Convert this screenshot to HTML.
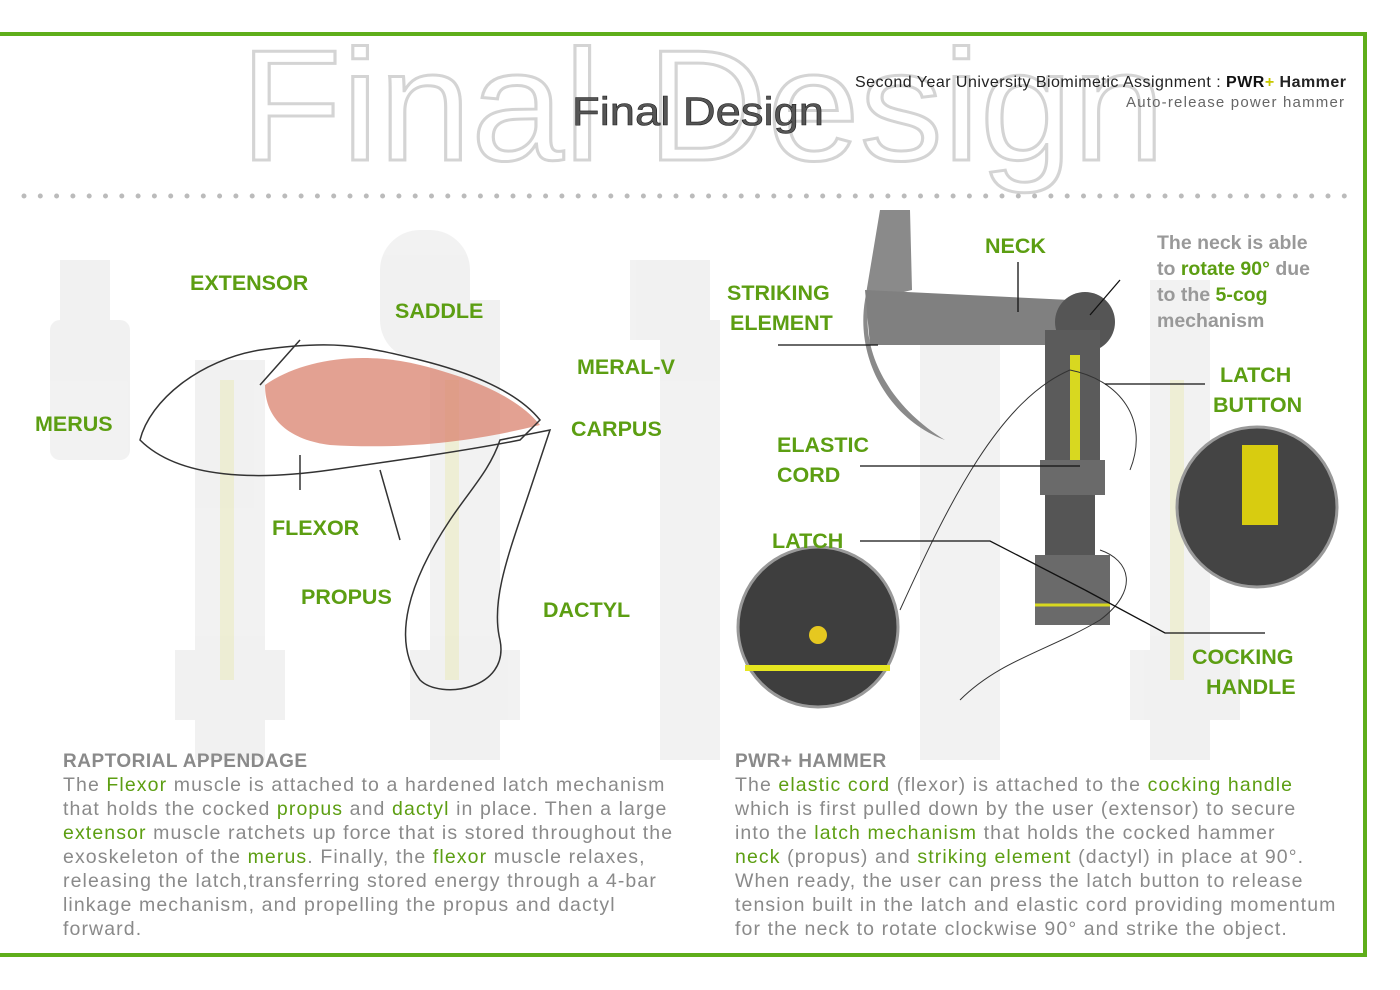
<!DOCTYPE html>
<html><head><meta charset="utf-8">
<style>
body{margin:0;background:#fff;}
svg{display:block}
.g{fill:#5c9e12;font-family:"Liberation Sans",sans-serif;font-weight:bold;font-size:21.5px}
.t{font-family:"Liberation Sans",sans-serif;font-size:19.5px;fill:#8a8a8a;letter-spacing:1.1px}
.t tspan.k{fill:#5c9e12}
</style></head><body>
<svg width="1400" height="990" viewBox="0 0 1400 990">
<rect width="1400" height="990" fill="#fff"/>
<g opacity="0.08" fill="#555">
<rect x="60" y="260" width="50" height="70"/><rect x="50" y="320" width="80" height="140" rx="10"/>
<rect x="195" y="360" width="70" height="400"/><rect x="175" y="650" width="110" height="70"/>
<rect x="380" y="230" width="90" height="130" rx="40"/><rect x="430" y="300" width="70" height="460"/><rect x="410" y="650" width="110" height="70"/>
<rect x="630" y="260" width="80" height="80"/><rect x="660" y="320" width="60" height="440"/>
<rect x="920" y="330" width="80" height="430"/><rect x="1150" y="280" width="60" height="480"/><rect x="1130" y="650" width="110" height="70"/>
</g>
<g opacity="0.15" fill="#d8d830"><rect x="220" y="380" width="14" height="300"/><rect x="445" y="380" width="14" height="300"/><rect x="1170" y="380" width="14" height="300"/></g>
<rect x="-2" y="34" width="1367" height="921" fill="none" stroke="#5fae1a" stroke-width="4"/>
<text x="240" y="160" font-family="Liberation Sans,sans-serif" font-size="158" fill="none" stroke="#d4d4d4" stroke-width="3" textLength="925" lengthAdjust="spacingAndGlyphs">Final Design</text>
<text x="572" y="125" font-family="Liberation Sans,sans-serif" font-size="40" fill="#555" stroke="#222" stroke-width="0.6" textLength="252" lengthAdjust="spacingAndGlyphs">Final Design</text>
<text x="855" y="87" font-family="Liberation Sans,sans-serif" font-size="16" fill="#222" textLength="491">Second Year University Biomimetic Assignment : <tspan font-weight="bold" fill="#111">PWR</tspan><tspan fill="#c8c800" font-weight="bold">+</tspan><tspan font-weight="bold"> Hammer</tspan></text>
<text x="1126" y="107" font-family="Liberation Sans,sans-serif" font-size="15" fill="#666" textLength="218">Auto-release power hammer</text>
<line x1="24" y1="196" x2="1350" y2="196" stroke="#bbb" stroke-width="5" stroke-linecap="round" stroke-dasharray="0 16.3"/>
<path d="M265 385 C300 360 360 350 420 365 C480 380 520 400 540 425 C480 440 410 450 330 445 C290 440 265 420 265 385Z" fill="#d9826e" opacity="0.75"/>
<g fill="none" stroke="#333" stroke-width="1.5">
<path d="M140 440 C150 400 200 360 260 350 C330 340 360 345 420 360 C480 375 520 395 540 420 L520 440 C470 450 400 460 330 470 C260 480 180 480 140 440Z"/>
<path d="M500 440 L550 430 L530 490 C510 550 490 600 500 640 C510 690 440 700 420 680 C390 640 410 580 450 520 C470 490 490 470 500 440Z"/>
<path d="M260 385 L300 340 M300 455 L300 490 M380 470 L400 540"/>
</g>
<g>
<path d="M880 210 L910 210 L912 290 L870 300 C860 340 880 400 945 440 C890 420 855 360 865 300 Z" fill="#8a8a8a"/>
<path d="M865 290 L1070 300 L1070 345 L870 345Z" fill="#808080"/>
<circle cx="1085" cy="322" r="30" fill="#555"/>
<rect x="1045" y="330" width="55" height="150" fill="#5b5b5b"/>
<rect x="1070" y="355" width="10" height="110" fill="#d8d820"/>
<rect x="1040" y="460" width="65" height="35" fill="#6a6a6a"/>
<rect x="1045" y="495" width="50" height="60" fill="#555"/>
<rect x="1035" y="555" width="75" height="70" fill="#6a6a6a"/>
<line x1="1035" y1="605" x2="1110" y2="605" stroke="#d8d820" stroke-width="3"/>
</g>
<g fill="none" stroke="#333" stroke-width="1">
<path d="M900 610 C950 500 1000 400 1070 370 C1120 380 1150 420 1130 470"/>
<path d="M960 700 C1000 660 1050 650 1100 620 C1140 590 1130 560 1100 550"/>
</g>
<circle cx="1257" cy="507" r="80" fill="#444" stroke="#999" stroke-width="3"/>
<rect x="1242" y="445" width="36" height="80" fill="#d8cc10"/>
<circle cx="818" cy="627" r="80" fill="#3e3e3e" stroke="#999" stroke-width="3"/>
<rect x="745" y="665" width="145" height="6" fill="#e6e620"/>
<circle cx="818" cy="635" r="9" fill="#e6c820"/>
<g stroke="#111" stroke-width="1.3" fill="none">
<path d="M1018 262 L1018 312"/><path d="M778 345 L878 345"/><path d="M1120 280 L1090 315"/>
<path d="M1205 384 L1105 384"/><path d="M860 466 L1080 466"/><path d="M860 541 L990 541 L1085 590"/><path d="M1085 590 L1165 633 L1265 633"/>
</g>
<text class="g" x="190" y="290">EXTENSOR</text>
<text class="g" x="395" y="318">SADDLE</text>
<text class="g" x="577" y="374">MERAL-V</text>
<text class="g" x="35" y="431">MERUS</text>
<text class="g" x="571" y="436">CARPUS</text>
<text class="g" x="272" y="535">FLEXOR</text>
<text class="g" x="301" y="604">PROPUS</text>
<text class="g" x="543" y="617">DACTYL</text>
<text class="g" x="985" y="253">NECK</text>
<text class="g" x="727" y="300">STRIKING</text>
<text class="g" x="730" y="330">ELEMENT</text>
<text class="g" x="777" y="452">ELASTIC</text>
<text class="g" x="777" y="482">CORD</text>
<text class="g" x="772" y="548">LATCH</text>
<text class="g" x="1220" y="382">LATCH</text>
<text class="g" x="1213" y="412">BUTTON</text>
<text class="g" x="1192" y="664">COCKING</text>
<text class="g" x="1206" y="694">HANDLE</text>
<g font-family="Liberation Sans,sans-serif" font-weight="bold" font-size="19.5" fill="#999">
<text x="1157" y="249">The neck is able</text>
<text x="1157" y="275">to <tspan fill="#5c9e12">rotate 90°</tspan> due</text>
<text x="1157" y="301">to the <tspan fill="#5c9e12">5-cog</tspan></text>
<text x="1157" y="327">mechanism</text>
</g>
<text x="63" y="767" font-family="Liberation Sans,sans-serif" font-weight="bold" font-size="19" fill="#8a8a8a" letter-spacing="0.5">RAPTORIAL APPENDAGE</text>
<text class="t" x="63" y="791">The <tspan class="k">Flexor</tspan> muscle is attached to a hardened latch mechanism</text>
<text class="t" x="63" y="815">that holds the cocked <tspan class="k">propus</tspan> and <tspan class="k">dactyl</tspan> in place. Then a large</text>
<text class="t" x="63" y="839"><tspan class="k">extensor</tspan> muscle ratchets up force that is stored throughout the</text>
<text class="t" x="63" y="863">exoskeleton of the <tspan class="k">merus</tspan>. Finally, the <tspan class="k">flexor</tspan> muscle relaxes,</text>
<text class="t" x="63" y="887">releasing the latch,transferring stored energy through a 4-bar</text>
<text class="t" x="63" y="911">linkage mechanism, and propelling the propus and dactyl</text>
<text class="t" x="63" y="935">forward.</text>
<text x="735" y="767" font-family="Liberation Sans,sans-serif" font-weight="bold" font-size="19" fill="#8a8a8a" letter-spacing="0.5">PWR+ HAMMER</text>
<text class="t" x="735" y="791">The <tspan class="k">elastic cord</tspan> (flexor) is attached to the <tspan class="k">cocking handle</tspan></text>
<text class="t" x="735" y="815">which is first pulled down by the user (extensor) to secure</text>
<text class="t" x="735" y="839">into the <tspan class="k">latch mechanism</tspan> that holds the cocked hammer</text>
<text class="t" x="735" y="863"><tspan class="k">neck</tspan> (propus) and <tspan class="k">striking element</tspan> (dactyl) in place at 90°.</text>
<text class="t" x="735" y="887">When ready, the user can press the latch button to release</text>
<text class="t" x="735" y="911">tension built in the latch and elastic cord providing momentum</text>
<text class="t" x="735" y="935">for the neck to rotate clockwise 90° and strike the object.</text>
</svg>
</body></html>
